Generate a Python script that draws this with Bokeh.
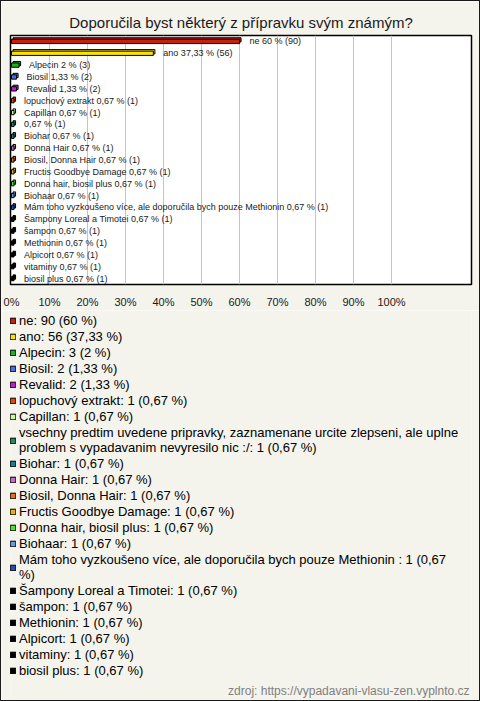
import textwrap
from bokeh.plotting import figure
from bokeh.layouts import column
from bokeh.models import (Range1d, FixedTicker, PrintfTickFormatter, Legend, LegendItem,
                          Label, ColumnDataSource)
from bokeh.core.properties import value
from bokeh.embed import file_html
from bokeh.resources import INLINE

title_text = "Doporučila byst některý z přípravku svým známým?"
source_text = "zdroj: https://vypadavani-vlasu-zen.vyplnto.cz"

categories = [
    "ne", "ano", "Alpecin", "Biosil", "Revalid", "lopuchový extrakt", "Capillan",
    "vsechny predtim uvedene pripravky, zaznamenane urcite zlepseni, ale uplne problem s vypadavanim nevyresilo nic :/",
    "Biohar", "Donna Hair", "Biosil, Donna Hair", "Fructis Goodbye Damage",
    "Donna hair, biosil plus", "Biohaar",
    "Mám toho vyzkoušeno více, ale doporučila bych pouze Methionin ",
    "Šampony Loreal a Timotei", "šampon", "Methionin", "Alpicort", "vitaminy", "biosil plus",
]
bar_names = [
    "ne", "ano", "Alpecin", "Biosil", "Revalid", "lopuchový extrakt", "Capillan",
    "",
    "Biohar", "Donna Hair", "Biosil, Donna Hair", "Fructis Goodbye Damage",
    "Donna hair, biosil plus", "Biohaar",
    "Mám toho vyzkoušeno více, ale doporučila bych pouze Methionin ",
    "Šampony Loreal a Timotei", "šampon", "Methionin", "Alpicort", "vitaminy", "biosil plus",
]
counts = [90, 56, 3, 2, 2, 1, 1, 1, 1, 1, 1, 1, 1, 1, 1, 1, 1, 1, 1, 1, 1]
percents = [60, 37.33, 2, 1.33, 1.33, 0.67, 0.67, 0.67, 0.67, 0.67, 0.67, 0.67,
            0.67, 0.67, 0.67, 0.67, 0.67, 0.67, 0.67, 0.67, 0.67]
colors = ["#c8200e", "#fae100", "#20b020", "#4a6ee0", "#c01cd0", "#e04a10", "#ccf8a0",
          "#1a9060", "#1f7a8c", "#cc66cc", "#e87010", "#e8b010", "#50e030", "#6a9ae0",
          "#2a4cb0", "#000000", "#000000", "#000000", "#000000", "#000000", "#000000"]
tick_values = [0, 10, 20, 30, 40, 50, 60, 70, 80, 90, 100]

FONT = "Liberation Sans"
BG = "#f4f3ec"


def fmt(v):
    return f"{v:.2f}".rstrip("0").rstrip(".").replace(".", ",")


pct_txt = [fmt(v) for v in percents]
idx = list(range(len(categories)))
bar_labels = [f"{n} {t} % ({c})" for n, t, c in zip(bar_names, pct_txt, counts)]
legend_labels = ["\n".join(textwrap.wrap(f"{n}: {c} ({t} %)", width=73))
                 for n, t, c in zip(categories, pct_txt, counts)]

# 3D depth of bars (in data units)
dx = 0.4
dy = 0.13

src = ColumnDataSource(dict(
    y=idx, right=percents, color=colors, label=bar_labels,
    y_back=[i - dy for i in idx], left_back=[dx] * len(idx),
    right_back=[v + dx for v in percents],
))

# ---------------- chart ----------------
p = figure(width=478, height=309, output_backend="svg", toolbar_location=None,
           x_range=Range1d(-0.263, 121.05), y_range=Range1d(20.5, -0.5),
           y_axis_location=None,
           min_border_left=9, min_border_right=8, min_border_top=34, min_border_bottom=23,
           background_fill_color="white", border_fill_color=BG,
           outline_line_color="black", outline_line_width=1.5)

p.title.text = title_text
p.title.align = "center"
p.title.text_font = FONT
p.title.text_font_size = "15px"
p.title.text_font_style = "normal"
p.title.text_color = "#1a1a1a"
p.title.standoff = 10

p.ygrid.visible = False
p.xgrid.ticker = FixedTicker(ticks=tick_values[1:])
p.xgrid.grid_line_color = "#c4c4c4"
p.xgrid.grid_line_width = 1

ax = p.xaxis[0]
ax.ticker = FixedTicker(ticks=tick_values)
ax.formatter = PrintfTickFormatter(format="%d%%")
ax.axis_line_color = None
ax.major_tick_line_color = None
ax.minor_tick_line_color = None
ax.major_label_text_font = FONT
ax.major_label_text_font_size = "11px"
ax.major_label_text_color = "#1a1a1a"
ax.major_label_standoff = 5

# back face (depth)
p.hbar(y="y_back", left="left_back", right="right_back", height=0.36, source=src,
       fill_color="color", line_color="black", line_width=1)
# front face
p.hbar(y="y", left=0, right="right", height=0.36, source=src,
       fill_color="color", line_color="black", line_width=1)
p.text(x="right", y="y", text="label", source=src, x_offset=10,
       text_baseline="middle", text_align="left", text_font=value(FONT),
       text_font_size="9px", text_color="#1a1a1a")

# ---------------- legend panel ----------------
q = figure(width=478, height=390, output_backend="svg", toolbar_location=None,
           x_range=Range1d(0, 1), y_range=Range1d(100, 101),
           x_axis_location=None, y_axis_location=None,
           min_border_left=0, min_border_right=0, min_border_top=0, min_border_bottom=0,
           background_fill_color=BG, border_fill_color=BG, outline_line_color=None)
q.grid.visible = False
# renderer only used for the legend swatches (lies outside the visible range)
swatch = q.hbar(y="y", left=0, right="right", height=0.36, source=src,
                fill_color="color", line_color="black", line_width=1)

items = [LegendItem(label=legend_labels[i], renderers=[swatch], index=i) for i in idx]
legend = Legend(items=items, location=(-1, 22), orientation="vertical",
                glyph_width=7, glyph_height=7, label_standoff=3, spacing=1,
                label_height=14, padding=0, margin=0,
                label_text_font=FONT, label_text_font_size="13px",
                label_text_color="#000000", label_text_line_height=1.1,
                background_fill_alpha=0, border_line_color=None)
q.add_layout(legend)

footer = Label(x=459, y=10, x_units="screen", y_units="screen", text=source_text,
               text_align="right", text_baseline="middle", text_font=FONT,
               text_font_size="12px", text_color="#808080")
q.add_layout(footer)

layout = column(p, q, spacing=0, styles={"border": "1px solid #1a1a1a"})
open("out.html", "w").write(file_html(layout, INLINE))
